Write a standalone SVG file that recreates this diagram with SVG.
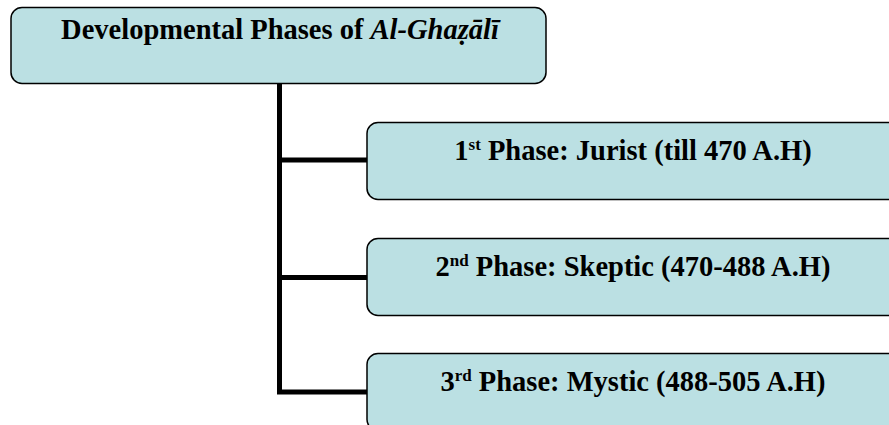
<svg xmlns="http://www.w3.org/2000/svg" width="889" height="425" viewBox="0 0 889 425">
<style>
.box{fill:#BBE0E3;stroke:#000;stroke-width:1.5}
.t{font-family:"Liberation Serif","Times New Roman",serif;font-weight:bold;font-size:28.5px;fill:#000}
.sup{font-size:17px}
.conn{stroke:#000;stroke-width:5;fill:none}
</style>
<rect width="889" height="425" fill="#fff"/>
<g id="connectors">
<path class="conn" d="M279.5 83 V392 M277 160 H367 M277 277.5 H367 M277 392 H367"/>
</g>
<g id="root">
<rect class="box" x="11" y="7.5" width="535" height="76" rx="11"/>
<text class="t" x="280" y="39" text-anchor="middle">Developmental Phases of <tspan font-style="italic">Al-Ghaẓālī</tspan></text>
</g>
<g id="phase1">
<rect class="box" x="367" y="122.5" width="540" height="77" rx="11"/>
<text class="t" x="633" y="160" text-anchor="middle">1<tspan class="sup" dy="-10">st</tspan><tspan dy="10"> Phase: Jurist (till 470 A.H)</tspan></text>
</g>
<g id="phase2">
<rect class="box" x="367" y="238.5" width="540" height="77" rx="11"/>
<text class="t" x="633" y="276" text-anchor="middle">2<tspan class="sup" dy="-10">nd</tspan><tspan dy="10"> Phase: Skeptic (470-488 A.H)</tspan></text>
</g>
<g id="phase3">
<rect class="box" x="367" y="353.5" width="540" height="77" rx="11"/>
<text class="t" x="633" y="391" text-anchor="middle">3<tspan class="sup" dy="-10">rd</tspan><tspan dy="10"> Phase: Mystic (488-505 A.H)</tspan></text>
</g>
</svg>
